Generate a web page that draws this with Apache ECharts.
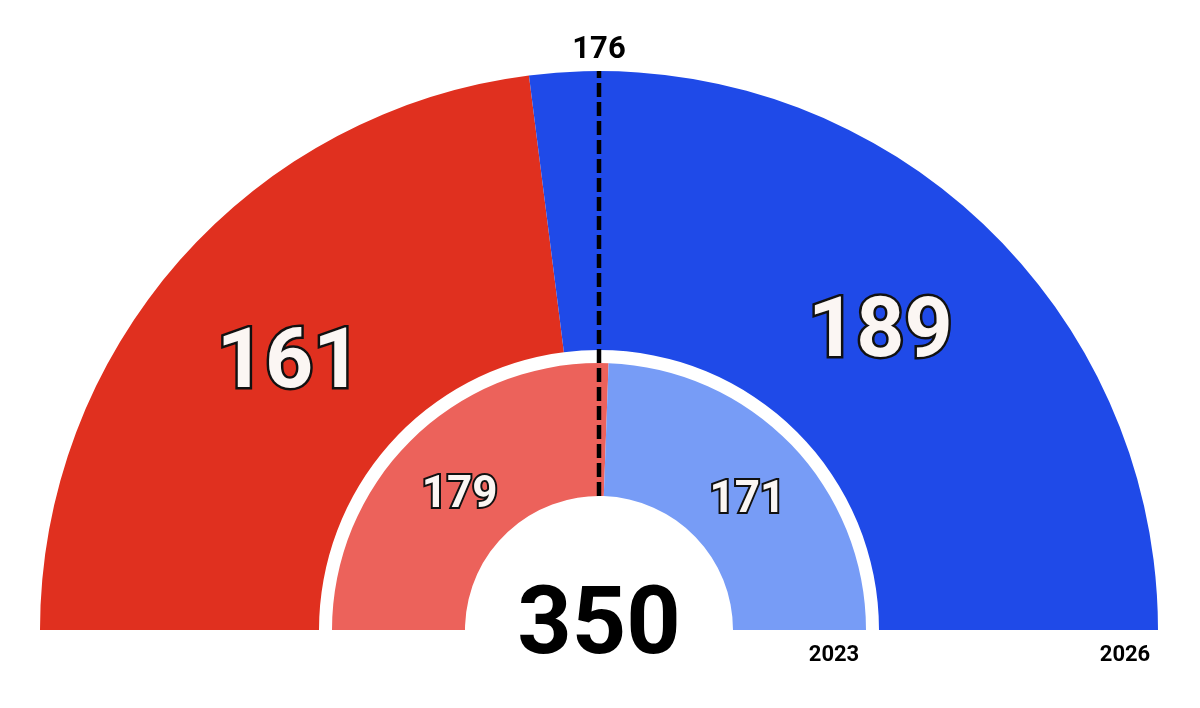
<!DOCTYPE html>
<html>
<head>
<meta charset="utf-8">
<script src="https://cdn.jsdelivr.net/npm/echarts@6/dist/echarts.min.js"></script>
<style>
html,body{margin:0;padding:0;background:#fff;}
#chart{width:1200px;height:708px;}
</style>
</head>
<body>
<div id="chart"></div>
<script>
// Data
var parties = ['Left', 'Right'];
var seats2026 = [161, 189];
var seats2023 = [179, 171];
var years = ['2023', '2026'];
var majority = 176;
var colors2026 = ['#e0301f', '#1f4ae8'];
var colors2023 = ['#ec625b', '#779cf6'];

var total = seats2026.reduce(function (a, b) { return a + b; }, 0);

var cx = 599, cy = 630;
var FONT = 'Roboto, "Noto Sans", sans-serif';

function ringData(vals, cols) {
  var d = vals.map(function (v, i) {
    return { name: parties[i], value: v, itemStyle: { color: cols[i] } };
  });
  d.push({ name: 'filler', value: total, itemStyle: { color: 'none' }, label: { show: false } });
  return d;
}

function labelStyle(size, border) {
  return {
    show: true,
    position: 'inside',
    formatter: '{c}',
    fontFamily: FONT,
    fontWeight: 'bold',
    fontSize: size,
    color: '#fbf6f3',
    textBorderColor: '#111111',
    textBorderWidth: border
  };
}

var chart = echarts.init(document.getElementById('chart'), null, { renderer: 'canvas' });

chart.setOption({
  animation: false,
  backgroundColor: '#ffffff',
  polar: { center: [cx, cy], radius: 559 },
  angleAxis: {
    type: 'value', min: 0, max: total * 2, startAngle: 180, clockwise: true,
    show: false, axisLine: { show: false }, splitLine: { show: false }, axisTick: { show: false }, axisLabel: { show: false }
  },
  radiusAxis: {
    type: 'value', min: 0, max: 559,
    show: false, axisLine: { show: false }, splitLine: { show: false }, axisTick: { show: false }, axisLabel: { show: false }
  },
  series: [
    {
      type: 'pie',
      name: years[1],
      silent: true,
      center: [cx, cy],
      radius: [280, 559],
      startAngle: 180,
      clockwise: true,
      avoidLabelOverlap: false,
      label: labelStyle(84, 5),
      labelLine: { show: false },
      labelLayout: function (p) {
        return p.dataIndex === 0 ? { dx: 7, dy: 15 } : { dx: 2, dy: 22 };
      },
      itemStyle: { borderWidth: 0 },
      data: ringData(seats2026, colors2026)
    },
    {
      type: 'pie',
      name: years[0],
      silent: true,
      center: [cx, cy],
      radius: [134, 267],
      startAngle: 180,
      clockwise: true,
      avoidLabelOverlap: false,
      label: labelStyle(44, 4),
      labelLine: { show: false },
      labelLayout: { dx: 2, dy: 12 },
      itemStyle: { borderWidth: 0 },
      data: ringData(seats2023, colors2023)
    },
    {
      type: 'line',
      coordinateSystem: 'polar',
      silent: true,
      symbol: 'none',
      z: 10,
      lineStyle: { color: '#000', width: 4.5, type: [14, 5] },
      data: [[134, total / 2], [561, total / 2]]
    }
  ],
  graphic: [
    {
      type: 'text', x: cx, y: 629,
      style: { text: String(total), fontFamily: FONT, fontWeight: 'bold', fontSize: 95, fill: '#000',
               align: 'center', verticalAlign: 'middle' }
    },
    {
      type: 'text', x: cx, y: 50,
      style: { text: String(majority), fontFamily: FONT, fontWeight: 'bold', fontSize: 31, fill: '#000',
               align: 'center', verticalAlign: 'middle' }
    },
    {
      type: 'text', x: 834, y: 655,
      style: { text: years[0], fontFamily: FONT, fontWeight: 'bold', fontSize: 22, fill: '#000',
               align: 'center', verticalAlign: 'middle' }
    },
    {
      type: 'text', x: 1125, y: 655,
      style: { text: years[1], fontFamily: FONT, fontWeight: 'bold', fontSize: 22, fill: '#000',
               align: 'center', verticalAlign: 'middle' }
    }
  ]
});
</script>
</body>
</html>
